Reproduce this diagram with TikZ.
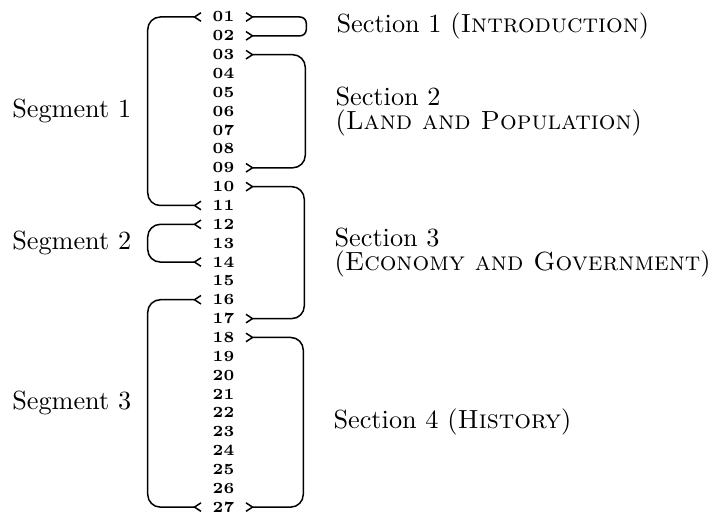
\documentclass[tikz,border=0pt]{standalone}
\usepackage{amsmath}
\usepackage{tikz}
\usetikzlibrary{arrows.meta,positioning}

\tikzset{
  tl/.tip={Straight Barb[reversed,length=2.6pt,width=3.4pt]},
  num/.style={font=\fontsize{6.2}{7}\selectfont\bfseries, inner xsep=4.2pt, inner ysep=0pt},
  brk/.style={line width=0.6pt, rounded corners=5pt, tl-tl},
  seglbl/.style={left=3pt, font=\fontsize{10.5}{12}\selectfont},
  seclbl/.style={right=8.5pt, align=left, font=\fontsize{10.5}{9.6}\selectfont}
}

\begin{document}
\begin{tikzpicture}[x=0.4pt,y=-0.4pt]
\useasboundingbox (0,0) rectangle (720,512);
% line numbers
\foreach \n [count=\k] in {01,02,03,04,05,06,07,08,09,10,11,12,13,14,15,16,17,18,19,20,21,22,23,24,25,26,27}
  \node[num] (n\n) at (223.5,{17+(\k-1)*18.85}) {\n};
% segments
\draw[brk] (n01.west) -- ++(-54,0) |- (n11.west) node[seglbl,pos=.25] {Segment 1};
\draw[brk] (n12.west) -- ++(-54,0) |- (n14.west) node[seglbl,pos=.25] {Segment 2};
\draw[brk] (n16.west) -- ++(-54,0) |- (n27.west) node[seglbl,pos=.25] {Segment 3};
% sections
\draw[brk,rounded corners=2.5pt] (n01.east) -- ++(61,0) |- (n02.east)
  node[seclbl,pos=.25] {Section 1 (\textsc{Introduction})};
\draw[brk] (n03.east) -- ++(60,0) |- (n09.east)
  node[seclbl,pos=.25] {Section 2\\(\textsc{Land and Population})};
\draw[brk] (n10.east) -- ++(59,0) |- (n17.east)
  node[seclbl,pos=.25] {Section 3\\(\textsc{Economy and Government})};
\draw[brk] (n18.east) -- ++(58,0) |- (n27.east)
  node[seclbl,pos=.25] {Section 4 (\textsc{History})};
\end{tikzpicture}
\end{document}
